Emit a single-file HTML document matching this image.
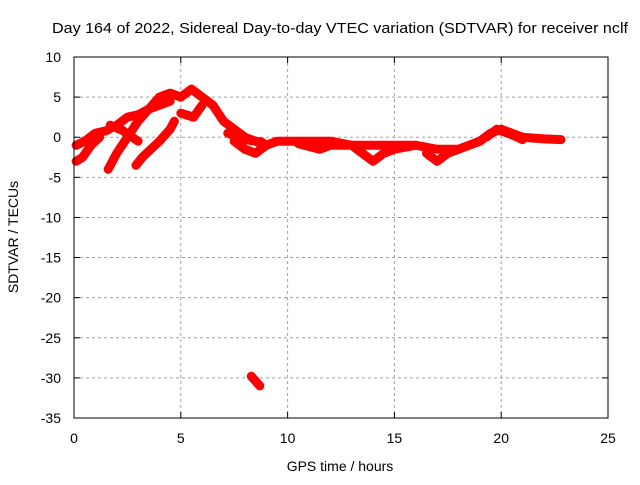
<!DOCTYPE html>
<html><head><meta charset="utf-8"><style>
body{margin:0;background:#fff}
svg{font-family:"Liberation Sans",sans-serif;font-size:14px}
</style></head><body>
<svg id="c" width="640" height="480" xmlns="http://www.w3.org/2000/svg">
<rect width="640" height="480" fill="#fff"/>
<text x="52" y="33" textLength="576" lengthAdjust="spacingAndGlyphs" style="font-size:15px">Day 164 of 2022, Sidereal Day-to-day VTEC variation (SDTVAR) for receiver nclf</text>
<text x="340" y="471" text-anchor="middle">GPS time / hours</text>
<text transform="translate(18,237) rotate(-90)" text-anchor="middle">SDTVAR / TECUs</text>
<g id="grid"></g>
<g id="ticks"></g>
<g id="series"></g>
<rect x="74" y="57" width="534" height="361" fill="none" stroke="#000" stroke-width="1"/>
</svg>
<script>
const xTicks=[0,5,10,15,20,25];
const yTicks=[10,5,0,-5,-10,-15,-20,-25,-30,-35];
const trackMain=[[0.1,-1],[0.5,-0.5],[1,0.5],[1.5,0.8],[2,1.5],[2.5,2.5],[3,2.8],[3.5,3.5],[4,5],[4.5,5.5],[5,5],[5.5,6],[6,5],[6.5,4],[7,2],[7.5,1],[8,0],[8.5,-0.5],[9,-1],[9.5,-0.5],[10,-0.5],[11,-0.5],[12,-0.5],[13,-1],[14,-1],[15,-1],[16,-1],[17,-1.5],[18,-1.5],[19,-0.5],[19.5,0.5],[20,1],[20.5,0.5],[21,0],[22,-0.2],[22.8,-0.3]];
const trackB=[[0.1,-3],[0.4,-2.5],[0.8,-1],[1.2,0]];
const trackC=[[1.6,-4],[2,-2],[2.5,0],[3,2],[3.5,3.5],[4,4],[4.5,4.5]];
const trackD=[[1.7,1.5],[2.3,0.8],[3,-0.5]];
const trackE=[[2.9,-3.5],[3.2,-2.5],[3.6,-1.5],[4,-0.5],[4.5,1],[4.7,2]];
const trackF=[[5,3],[5.6,2.5],[6,4]];
const trackG=[[7.5,-0.5],[8,-1.5],[8.5,-2],[9,-1]];
const trackG2=[[7.2,0.5],[8,-0.3],[8.8,-0.6]];
const trackH=[[10.5,-0.8],[11.5,-1.5],[12,-1]];
const trackI=[[12,-1],[13,-1],[13.5,-2],[14,-3],[14.5,-2],[15,-1.5],[16,-1]];
const trackJ=[[16.5,-2],[17,-3],[17.5,-2],[18,-1.5]];
const trackL=[[19.3,0],[19.8,1],[20.5,0.3],[21,-0.3]];
const trackK=[[8.3,-29.8],[8.7,-31]];
const tracks=[trackMain,trackB,trackC,trackD,trackE,trackF,trackG,trackG2,trackH,trackI,trackJ,trackL,trackK];
const NS="http://www.w3.org/2000/svg";
const X0=74,X1=608,Y0=418,Y1=57;
function sx(h){return X0+(h-0)/(25-0)*(X1-X0);}
function sy(v){return Y0-(v+35)/(45)*(Y0-Y1);}
function mk(t,a,p){const e=document.createElementNS(NS,t);for(const k in a)e.setAttribute(k,a[k]);p.appendChild(e);return e;}
const g=document.getElementById('grid'),tk=document.getElementById('ticks'),s=document.getElementById('series');
xTicks.forEach(v=>{const x=sx(v);
 if(v>0&&v<25){const l=mk('line',{x1:x,x2:x,y1:Y1,y2:Y0,stroke:'#a0a0a0','stroke-dasharray':'3,3'},g);}
 mk('line',{x1:x,x2:x,y1:Y0,y2:Y0-6,stroke:'#000'},tk);mk('line',{x1:x,x2:x,y1:Y1,y2:Y1+6,stroke:'#000'},tk);
 const t=mk('text',{x:x,y:443,'text-anchor':'middle'},tk);t.textContent=v;
 });
yTicks.forEach(v=>{const y=sy(v);
 if(v<10&&v>-35){const l=mk('line',{x1:X0,x2:X1,y1:y,y2:y,stroke:'#a0a0a0','stroke-dasharray':'3,3'},g);}
 mk('line',{x1:X0,x2:X0+6,y1:y,y2:y,stroke:'#000'},tk);mk('line',{x1:X1,x2:X1-6,y1:y,y2:y,stroke:'#000'},tk);
 const t=mk('text',{x:61,y:y+5,'text-anchor':'end'},tk);t.textContent=v;
 });
tracks.forEach(tr=>{const p=mk('polyline',{points:tr.map(d=>sx(d[0])+','+sy(d[1])).join(' '),fill:'none',stroke:'#f00','stroke-width':9,'stroke-linejoin':'round','stroke-linecap':'round'},s);
 });
</script>
</body></html>
